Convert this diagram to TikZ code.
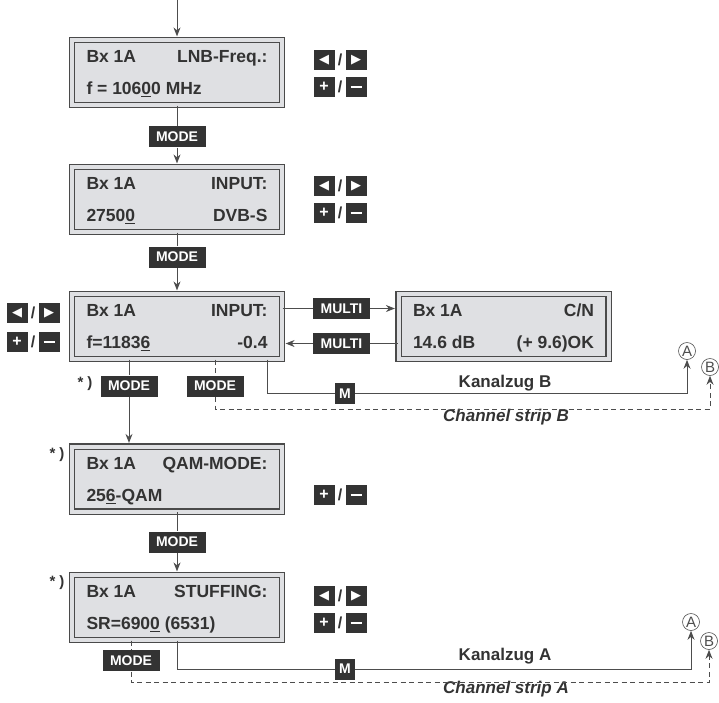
\documentclass[tikz,border=0pt]{standalone}
\usepackage{fontspec}
\setmainfont{Liberation Sans}
\newfontfamily\symfont{DejaVu Sans}
\usetikzlibrary{
    arrows.meta,
    calc,
    positioning
}
\definecolor{panelgray}{HTML}{DFE0E3}
\definecolor{framegray}{HTML}{4A4A4A}
\definecolor{keygray}{HTML}{333333}
\definecolor{linegray}{HTML}{4D4D4D}
\newcommand{\lcdtext}[4]{%
    \begin{tabular}{@{}p{181pt}@{}}#1\hfill#2\\ #3\hfill#4\end{tabular}}
\newcommand{\keytri}[1]{{\symfont\fontsize{13}{13}\selectfont #1}}
\tikzset{
    display/.style={draw=framegray, line width=1.2pt, double=panelgray, double distance=4pt,
        fill=panelgray, minimum width=210pt, minimum height=65pt, inner sep=0pt,
        text=keygray, font=\fontsize{17.5}{32}\selectfont\bfseries},
    keylabel/.style={fill=keygray, text=white, minimum height=21pt, inner xsep=7.5pt,
        inner ysep=0pt, font=\fontsize{14}{14}\selectfont\bfseries},
    keybox/.style={fill=keygray, text=white, minimum width=21pt, minimum height=20pt,
        inner sep=0pt, font=\fontsize{16}{16}\selectfont\bfseries},
    slash/.style={text=keygray, inner sep=0pt, font=\fontsize{16}{16}\selectfont\bfseries},
    stripname/.style={text=keygray, font=\fontsize{17}{18}\selectfont\bfseries},
    footmark/.style={text=keygray, font=\fontsize{15}{15}\selectfont\bfseries},
    jump/.style={draw=linegray, line width=0.6pt, circle, minimum size=17pt, inner sep=0pt,
        text=linegray, font=\fontsize{15}{15}\selectfont},
    strip/.style={dash pattern=on 5pt off 3.5pt}
}

\begin{document}
\begin{tikzpicture}[x=1pt, y=1pt, line width=1pt, draw=linegray,
        >={Stealth[length=9pt, width=7pt]}]
    \useasboundingbox (0, 0) rectangle (719, -702);
    % displays
    \node[display] (b1) at (177, -72.5) {\lcdtext{Bx 1A}{LNB-Freq.:}{f = 106\underline{0}0 MHz}{}};
    \node[display] (b2) at (177, -199.5) {\lcdtext{Bx 1A}{INPUT:}{2750\underline{0}}{DVB-S}};
    \node[display] (b3) at (177, -326.5) {\lcdtext{Bx 1A}{INPUT:}{f=1183\underline{6}}{-0.4}};
    \node[display] (cn) at (503.5, -326.5) {\lcdtext{Bx 1A}{C/N}{14.6 dB}{(+ 9.6)OK}};
    \node[display] (b4) at (177, -479) {\lcdtext{Bx 1A}{QAM-MODE:}{25\underline{6}-QAM}{}};
    \node[display] (b5) at (177, -607.5) {\lcdtext{Bx 1A}{STUFFING:}{SR=690\underline{0} (6531)}{}};
    % key labels
    \node[keylabel] (m1) at (177, -136.5) {MODE};
    \node[keylabel] (m2) at (177, -257) {MODE};
    \node[keylabel] (m3) at (129, -386) {MODE};
    \node[keylabel] (m4) at (215, -386) {MODE};
    \node[keylabel] (m5) at (177, -542) {MODE};
    \node[keylabel] (m6) at (131, -660.5) {MODE};
    \node[keylabel] (mu1) at (341.5, -308.5) {MULTI};
    \node[keylabel] (mu2) at (341.5, -343.5) {MULTI};
    \node[keylabel, inner xsep=4pt] (mb) at (345, -393.5) {M};
    \node[keylabel, inner xsep=4pt] (ma) at (345, -669) {M};
    % jump marks
    \node[jump] (ab) at (687, -351) {A};
    \node[jump] (bb) at (710, -367) {B};
    \node[jump] (aa) at (691, -622) {A};
    \node[jump] (ba) at (709, -641) {B};
    % arrow keys
    \begin{scope}[shift={(0, -60)}]
        \node[keybox] (kl1) at (324, 0) {\keytri{◀}};
        \node[slash] (s1) at (340, 0) {/};
        \node[keybox] (kr1) at (356, 0) {\keytri{▶}};
    \end{scope}
    \begin{scope}[shift={(0, -87)}]
        \node[keybox] (kp1) at (324, 0) {+};
        \node[slash] (t1) at (340, 0) {/};
        \node[keybox] (km1) at (356, 0) {\rule{11pt}{2.4pt}};
    \end{scope}
    \begin{scope}[shift={(0, -186)}]
        \node[keybox] (kl2) at (324, 0) {\keytri{◀}};
        \node[slash] (s2) at (340, 0) {/};
        \node[keybox] (kr2) at (356, 0) {\keytri{▶}};
    \end{scope}
    \begin{scope}[shift={(0, -213)}]
        \node[keybox] (kp2) at (324, 0) {+};
        \node[slash] (t2) at (340, 0) {/};
        \node[keybox] (km2) at (356, 0) {\rule{11pt}{2.4pt}};
    \end{scope}
    \begin{scope}[shift={(-307, -313)}]
        \node[keybox] (kl3) at (324, 0) {\keytri{◀}};
        \node[slash] (s3) at (340, 0) {/};
        \node[keybox] (kr3) at (356, 0) {\keytri{▶}};
    \end{scope}
    \begin{scope}[shift={(-307, -342)}]
        \node[keybox] (kp3) at (324, 0) {+};
        \node[slash] (t3) at (340, 0) {/};
        \node[keybox] (km3) at (356, 0) {\rule{11pt}{2.4pt}};
    \end{scope}
    \begin{scope}[shift={(0, -495)}]
        \node[keybox] (kp4) at (324, 0) {+};
        \node[slash] (t4) at (340, 0) {/};
        \node[keybox] (km4) at (356, 0) {\rule{11pt}{2.4pt}};
    \end{scope}
    \begin{scope}[shift={(0, -596)}]
        \node[keybox] (kl5) at (324, 0) {\keytri{◀}};
        \node[slash] (s5) at (340, 0) {/};
        \node[keybox] (kr5) at (356, 0) {\keytri{▶}};
    \end{scope}
    \begin{scope}[shift={(0, -623)}]
        \node[keybox] (kp5) at (324, 0) {+};
        \node[slash] (t5) at (340, 0) {/};
        \node[keybox] (km5) at (356, 0) {\rule{11pt}{2.4pt}};
    \end{scope}
    % footnote marks
    \node[footmark] (f3) at (85, -384) {* )};
    \node[footmark] (f4) at (57, -455) {* )};
    \node[footmark] (f5) at (57, -583) {* )};
    % strip names
    \node[stripname] (kzb) at (505, -383) {Kanalzug B};
    \node[stripname, font=\fontsize{17}{18}\selectfont\bfseries\itshape] (csb) at (506, -417) {Channel strip B};
    \node[stripname] (kza) at (505, -656) {Kanalzug A};
    \node[stripname, font=\fontsize{17}{18}\selectfont\bfseries\itshape] (csa) at (506, -689) {Channel strip A};
    % connectors
    \coordinate (entry) at (177, 0);
    \draw[->, shorten >=3pt] (entry) -- (b1);
    \draw (b1) -- (m1);
    \draw[->, shorten >=3pt] (m1) -- (b2);
    \draw (b2) -- (m2);
    \draw[->, shorten >=3pt] (m2) -- (b3);
    \draw (b3.south -| m3) -- (m3);
    \draw[->, shorten >=3pt] (m3) -- (b4.north -| m3);
    \draw (b4) -- (m5);
    \draw[->, shorten >=3pt] (m5) -- (b5);
    \draw (b3.east |- mu1) -- (mu1);
    \draw[->, shorten >=3pt] (mu1) -- (cn.west |- mu1);
    \draw (cn.west |- mu2) -- (mu2);
    \draw[->, shorten >=3pt] (mu2) -- (b3.east |- mu2);
    \draw ([xshift=-15pt]b3.south east) |- (mb);
    \draw[->] (mb) -| (ab);
    \draw[strip] (b3.south -| m4) -- (m4);
    \draw[strip, ->] (m4.south) -- ++(0, -12) -| (bb);
    \draw (b5.south) |- (ma);
    \draw[->] (ma) -| (aa);
    \draw[strip] (b5.south -| m6) -- (m6);
    \draw[strip, ->] (m6.south) -- ++(0, -11) -| (ba);
\end{tikzpicture}
\end{document}
